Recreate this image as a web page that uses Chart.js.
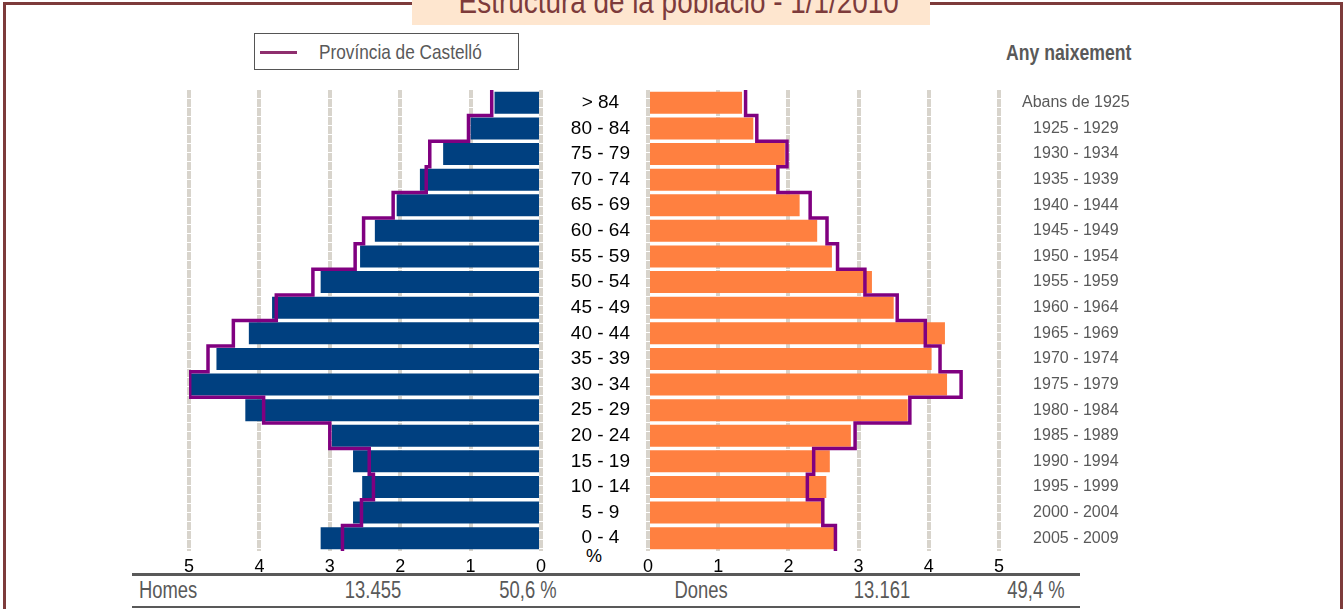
<!DOCTYPE html>
<html>
<head>
<meta charset="utf-8">
<script src="https://cdn.jsdelivr.net/npm/chart.js@4"></script>
<style>
html,body{margin:0;padding:0;background:#fff;width:1344px;height:609px;overflow:hidden;position:relative;}
.abs{position:absolute;}
.nar{font-family:'Liberation Sans',Arial,sans-serif;white-space:nowrap;}
.arial{font-family:'Liberation Sans',Arial,sans-serif;}
#frame{left:3px;top:2px;width:1340px;height:700px;border:3px solid #7d3b3b;border-bottom:none;box-sizing:border-box;}
#titlebox{left:412px;top:0;width:518px;height:25px;background:#fee6cf;overflow:hidden;}
#title{position:absolute;left:0;width:518px;top:-16px;line-height:34px;font-size:34px;color:#7d3b3b;text-align:center;transform:scaleX(0.82);transform-origin:259px 0;}
#legend{left:254px;top:33px;width:265px;height:37px;border:1px solid #555;box-sizing:border-box;}
#swatch{left:260px;top:51px;width:37px;height:3px;background:#8e2e6e;}
#legendText{left:319px;top:40px;line-height:24px;font-size:21px;color:#595959;transform:scaleX(0.82);transform-origin:0 0;}
#anyNaix{left:1006px;top:41px;line-height:24px;font-size:21.5px;font-weight:bold;color:#595959;transform:scaleX(0.82);transform-origin:0 0;}
#pct{left:586px;top:546px;font-size:18px;line-height:20px;color:#000;}
.rule{left:132px;width:948px;background:#595959;}
.sum{top:577px;line-height:26px;font-size:23px;color:#595959;width:140px;text-align:center;transform:scaleX(0.8);}
canvas{position:absolute;}
</style>
</head>
<body>
<div id="frame" class="abs"></div>
<div id="titlebox" class="abs"><div id="title" class="nar">Estructura de la població - 1/1/2010</div></div>
<div id="legend" class="abs"></div>
<div id="swatch" class="abs"></div>
<div id="legendText" class="abs nar">Província de Castelló</div>
<div id="anyNaix" class="abs nar">Any naixement</div>
<div id="pct" class="abs arial">%</div>
<div class="abs rule" style="top:573px;height:3px;"></div>
<div class="abs rule" style="top:606px;height:2px;"></div>
<div id="summary"></div>

<canvas id="left" width="392" height="509" style="left:169px;top:70px;width:392px;height:509px;"></canvas>
<canvas id="right" width="608" height="509" style="left:541px;top:70px;width:608px;height:509px;"></canvas>

<script>
// ---- data (top row first) ----
const ageGroups = ['> 84','80 - 84','75 - 79','70 - 74','65 - 69','60 - 64','55 - 59','50 - 54','45 - 49','40 - 44','35 - 39','30 - 34','25 - 29','20 - 24','15 - 19','10 - 14','5 - 9','0 - 4'];
const birthYears = ['Abans de 1925','1925 - 1929','1930 - 1934','1935 - 1939','1940 - 1944','1945 - 1949','1950 - 1954','1955 - 1959','1960 - 1964','1965 - 1969','1970 - 1974','1975 - 1979','1980 - 1984','1985 - 1989','1990 - 1994','1995 - 1999','2000 - 2004','2005 - 2009'];
const menLocal      = [0.66,1.00,1.39,1.72,2.05,2.36,2.57,3.13,3.82,4.15,4.61,4.99,4.20,2.97,2.67,2.54,2.67,3.13];
const menProvince   = [0.70,1.03,1.58,1.63,2.10,2.52,2.64,3.24,3.76,4.37,4.73,4.99,3.94,3.00,2.44,2.38,2.55,2.82];
const womenLocal    = [1.34,1.50,1.95,1.83,2.16,2.41,2.62,3.19,3.50,4.23,4.04,4.26,3.70,2.89,2.59,2.54,2.47,2.68];
const womenProvince = [1.39,1.55,1.98,1.85,2.31,2.55,2.70,3.09,3.55,3.95,4.16,4.46,3.73,2.95,2.36,2.27,2.49,2.67];
const axisMin = 0, axisMax = 5, axisStep = 1;
const summaryLabels = ['Homes','Dones'];
const summaryCounts = ['13.455','13.161'];
const summaryShares = ['50,6 %','49,4 %'];

// ---- summary row ----
(function(){
  const host = document.getElementById('summary');
  const place = [
    {t: summaryLabels[0], x:139, align:'left'},
    {t: summaryCounts[0], c:373},
    {t: summaryShares[0], c:528},
    {t: summaryLabels[1], c:701},
    {t: summaryCounts[1], c:882},
    {t: summaryShares[1], c:1036}
  ];
  place.forEach(p=>{
    const d = document.createElement('div');
    d.className = 'abs sum nar';
    d.textContent = p.t;
    if (p.align === 'left') { d.style.left = p.x+'px'; d.style.textAlign='left'; d.style.transformOrigin='0 0'; }
    else { d.style.left = (p.c-70)+'px'; d.style.transformOrigin='70px 0'; }
    host.appendChild(d);
  });
})();

// step outline points from a series: each row spans index-0.5 .. index+0.5
function stepPoints(values){
  const pts = [];
  values.forEach((v,i)=>{ pts.push({x:v, y:i-0.5}); pts.push({x:v, y:i+0.5}); });
  return pts;
}

const ARIAL = "'Liberation Sans',Arial,sans-serif";
const gridOpts = {color:'#d8d4cc', lineWidth:4, drawTicks:false};
const borderOpts = {display:false, dash:[8,1]};

function xScale(reverse){
  return {
    type:'linear', position:'bottom', min:axisMin, max:axisMax, reverse:reverse,
    ticks:{stepSize:axisStep, padding:5, color:'#000', font:{family:ARIAL, size:18}},
    grid:gridOpts, border:borderOpts,
    afterFit: s=>{ s.height = 28; s.paddingLeft = 0; s.paddingRight = 0; }
  };
}
const lineScale = {type:'linear', display:false, offset:false, grid:{offset:false}, min:-0.5, max:17.5, reverse:true};

function datasets(local, province, color){
  return [
    {type:'line', indexAxis:'y', data:stepPoints(province), xAxisID:'x', yAxisID:'yl',
     borderColor:'#800080', borderWidth:3.5, pointRadius:0, fill:false, tension:0,
     borderJoinStyle:'miter', borderCapStyle:'butt', order:0},
    {type:'bar', indexAxis:'y', data:local, xAxisID:'x', yAxisID:'y', backgroundColor:color,
     grouped:false, barPercentage:1, categoryPercentage:0.86, order:1}
  ];
}

const common = {
  indexAxis:'y', responsive:false, animation:false, events:[],
  plugins:{legend:{display:false}, tooltip:{enabled:false}, title:{display:false}}
};

new Chart(document.getElementById('left'), {
  type:'bar',
  data:{labels:ageGroups, datasets:datasets(menLocal, menProvince, '#004080')},
  options:Object.assign({}, common, {
    layout:{padding:{top:20,left:20,right:20,bottom:0}},
    scales:{
      x:xScale(true),
      y:{type:'category', display:false, offset:true},
      yl:lineScale
    }
  })
});

new Chart(document.getElementById('right'), {
  type:'bar',
  data:{labels:ageGroups, datasets:datasets(womenLocal, womenProvince, '#ff8040')},
  options:Object.assign({}, common, {
    layout:{padding:{top:20,left:0,right:0,bottom:0}},
    scales:{
      x:xScale(false),
      y:{type:'category', position:'left', offset:true,
         grid:{display:false, drawTicks:false}, border:{display:false},
         ticks:{crossAlign:'center', padding:18, autoSkip:false, color:'#000', font:{family:ARIAL, size:19}},
         afterFit: s=>{ s.width = 107; s.paddingTop = 0; s.paddingBottom = 0; }},
      yR:{type:'category', labels:birthYears, position:'right', offset:true,
         grid:{display:false, drawTicks:false}, border:{display:false},
         ticks:{crossAlign:'center', padding:23, autoSkip:false, color:'#595959', font:{family:ARIAL, size:16}},
         afterFit: s=>{ s.width = 150; s.paddingTop = 0; s.paddingBottom = 0; }},
      yl:lineScale
    }
  })
});
</script>
</body>
</html>
